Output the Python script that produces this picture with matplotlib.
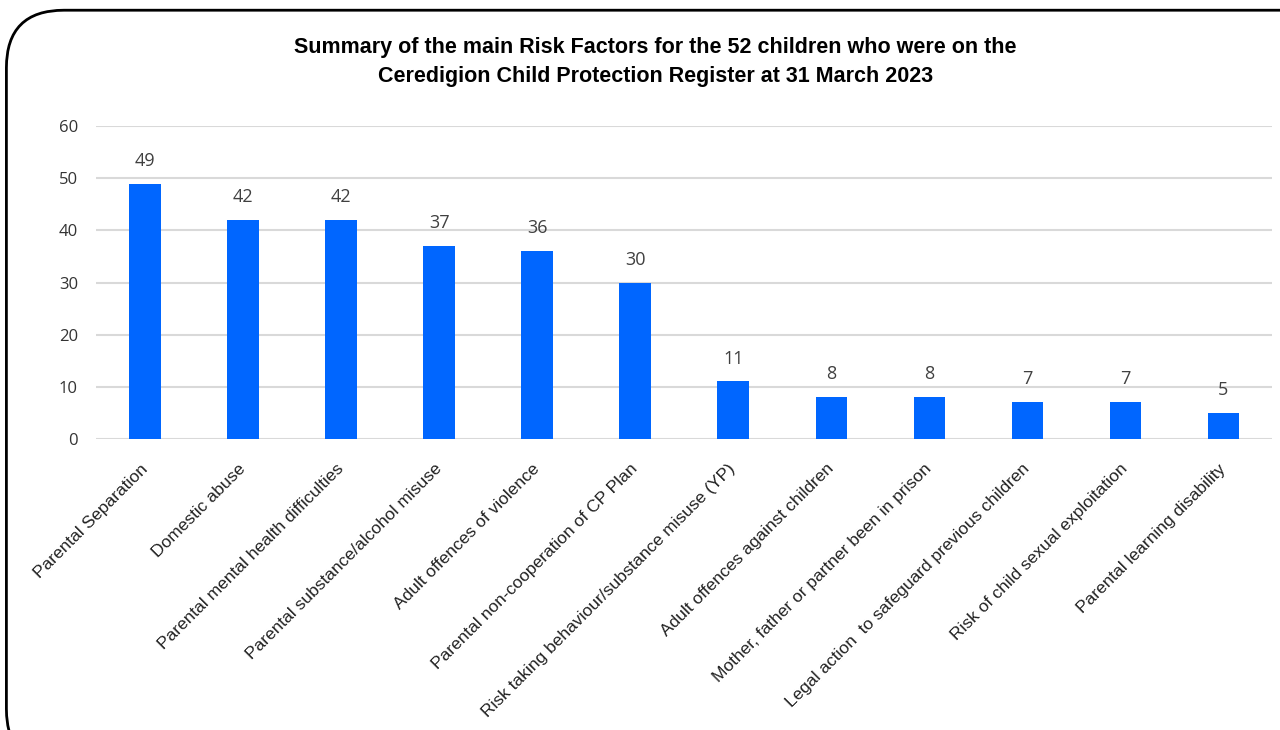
import matplotlib.pyplot as plt
from matplotlib.patches import FancyBboxPatch

categories = ["Parental Separation", "Domestic abuse", "Parental mental health difficulties",
              "Parental substance/alcohol misuse", "Adult offences of violence",
              "Parental non-cooperation of CP Plan", "Risk taking behaviour/substance misuse (YP)",
              "Adult offences against children", "Mother, father or partner been in prison",
              "Legal action  to safeguard previous children", "Risk of child sexual exploitation",
              "Parental learning disability"]
counts = [49, 42, 42, 37, 36, 30, 11, 8, 8, 7, 7, 5]
yticks = [0, 10, 20, 30, 40, 50, 60]
title = ("Summary of the main Risk Factors for the 52 children who were on the\n"
         "Ceredigion Child Protection Register at 31 March 2023")

fig = plt.figure(figsize=(12.8, 7.3), dpi=100)

# rounded outer frame, runs off the right and bottom edge
frame = FancyBboxPatch((0.005, -0.05), 1.2, 1.036, boxstyle="round,pad=0,rounding_size=0.045",
                       transform=fig.transFigure, fill=False, edgecolor="black", linewidth=2,
                       mutation_aspect=1280 / 730)
fig.patches.append(frame)

ax = fig.add_axes([0.075, 0.399, 0.919, 0.428])
x = range(len(categories))
ax.bar(x, counts, width=0.32, color="#0066ff", zorder=3)

for i, v in enumerate(counts):
    ax.annotate(str(v), (i, v), xytext=(0, 10), textcoords="offset points",
                ha="center", va="bottom", fontsize=13, color="#404040",
                family=["Open Sans", "DejaVu Sans"])

ax.set_xlim(-0.5, len(categories) - 0.5)
ax.set_ylim(0, 60)
ax.set_yticks(yticks)
ax.yaxis.grid(True, color="#d9d9d9", linewidth=1.5, zorder=0)
ax.set_axisbelow(True)
for s in ax.spines.values():
    s.set_visible(False)
ax.tick_params(axis="both", length=0)
ax.tick_params(axis="y", pad=13, labelsize=12, labelcolor="#333333")
ax.set_yticklabels([str(t) for t in yticks], family=["Open Sans", "DejaVu Sans"])
ax.set_xticks(list(x))
ax.set_xticklabels(categories, rotation=45, ha="right", va="center", rotation_mode="anchor",
                   fontsize=12.5, family="Liberation Sans", color="#222222")
ax.tick_params(axis="x", pad=20)

fig.text(0.512, 0.915, title, ha="center", va="center", fontsize=15.5, fontweight="bold",
         family=["Liberation Sans Narrow", "Liberation Sans"], linespacing=1.45)

fig.savefig("out.png", dpi=100)
